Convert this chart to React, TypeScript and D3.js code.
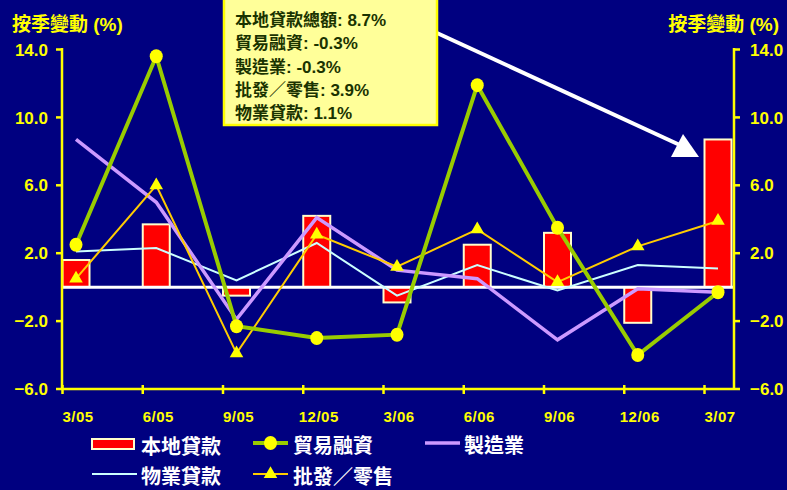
import React, { useEffect, useRef } from 'react';
import * as d3 from 'd3';

const quarters = ['3/05', '6/05', '9/05', '12/05', '3/06', '6/06', '9/06', '12/06', '3/07'];
const localLoans = [1.6, 3.7, -0.5, 4.2, -0.9, 2.5, 3.2, -2.1, 8.7];
const tradeFinance = [2.5, 13.6, -2.3, -3.0, -2.8, 11.9, 3.5, -4.0, -0.3];
const manufacturing = [8.7, 5.0, -1.9, 4.1, 1.0, 0.5, -3.1, -0.1, -0.3];
const propertyLoans = [2.1, 2.3, 0.4, 2.6, -0.5, 1.3, -0.2, 1.3, 1.1];
const wholesaleRetail = [0.5, 6.0, -3.9, 3.1, 1.2, 3.4, 0.3, 2.4, 3.9];
const yTicks = [-6, -2, 2, 6, 10, 14];
const summaryLines = ['本地貸款總額: 8.7%', '貿易融資: -0.3%', '製造業: -0.3%', '批發／零售: 3.9%', '物業貸款: 1.1%'];
const axisTitle = '按季變動 (%)';

const W = 787;
const H = 490;
const FONT = "'Liberation Sans', Arial, 'Noto Sans CJK TC', sans-serif";

const App: React.FC = () => {
  const svgRef = useRef<SVGSVGElement>(null);

  useEffect(() => {
    const svg = d3.select(svgRef.current);
    svg.selectAll('*').remove();

    const left = 62;
    const right = 734;
    const top = 48;
    const bottom = 389;

    svg.append('rect').attr('width', W).attr('height', H).attr('fill', '#000080');

    const x = d3.scalePoint<string>().domain(quarters).range([76, 718]);
    const y = d3.scaleLinear().domain([-6, 14]).range([bottom, top + 1.5]);
    const barW = 27;

    // bars
    svg.append('g')
      .selectAll('rect')
      .data(localLoans)
      .enter()
      .append('rect')
      .attr('x', (d, i) => (x(quarters[i]) as number) - barW / 2)
      .attr('y', d => y(Math.max(0, d)))
      .attr('width', barW)
      .attr('height', d => Math.abs(y(d) - y(0)))
      .attr('fill', '#ff0000')
      .attr('stroke', '#ffffcc')
      .attr('stroke-width', 2);

    // zero line
    svg.append('line')
      .attr('x1', left).attr('x2', right)
      .attr('y1', y(0)).attr('y2', y(0))
      .attr('stroke', '#ffffff').attr('stroke-width', 3);

    const line = d3.line<number>()
      .x((d, i) => x(quarters[i]) as number)
      .y(d => y(d));

    const series = [
      { values: propertyLoans, color: '#ccffff', width: 2 },
      { values: manufacturing, color: '#cc99ff', width: 3.5 },
      { values: wholesaleRetail, color: '#ffcc00', width: 2 },
      { values: tradeFinance, color: '#99cc00', width: 4 },
    ];
    series.forEach(s => {
      svg.append('path')
        .datum(s.values)
        .attr('d', line)
        .attr('fill', 'none')
        .attr('stroke', s.color)
        .attr('stroke-width', s.width)
        .attr('stroke-linejoin', 'miter');
    });

    const tri = d3.symbol().type(d3.symbolTriangle).size(80);
    svg.append('g')
      .selectAll('path')
      .data(wholesaleRetail)
      .enter()
      .append('path')
      .attr('d', tri)
      .attr('transform', (d, i) => `translate(${x(quarters[i])},${y(d)})`)
      .attr('fill', '#ffff00');

    svg.append('g')
      .selectAll('ellipse')
      .data(tradeFinance)
      .enter()
      .append('ellipse')
      .attr('cx', (d, i) => x(quarters[i]) as number)
      .attr('cy', d => y(d))
      .attr('rx', 6.5)
      .attr('ry', 7)
      .attr('fill', '#ffff00');

    // axes
    const axisColor = '#ffff00';
    const axes = svg.append('g').attr('stroke', axisColor).attr('stroke-width', 2.5);
    axes.append('line').attr('x1', left).attr('x2', left).attr('y1', top).attr('y2', bottom);
    axes.append('line').attr('x1', right).attr('x2', right).attr('y1', top).attr('y2', bottom);
    axes.append('line').attr('x1', left).attr('x2', right).attr('y1', bottom).attr('y2', bottom);

    yTicks.forEach(t => {
      axes.append('line').attr('x1', left - 6).attr('x2', left).attr('y1', y(t)).attr('y2', y(t));
      axes.append('line').attr('x1', right).attr('x2', right + 6).attr('y1', y(t)).attr('y2', y(t));
    });
    quarters.forEach(q => {
      const tx = (x(q) as number) - 13.5;
      axes.append('line').attr('x1', tx).attr('x2', tx).attr('y1', bottom - 4).attr('y2', bottom + 5);
    });

    const fmt = d3.format('.1f');
    const tickText = svg.append('g')
      .attr('fill', axisColor)
      .style('font-family', FONT)
      .style('font-weight', 'bold')
      .style('font-size', '17px');
    yTicks.forEach(t => {
      tickText.append('text')
        .attr('x', 48).attr('y', y(t)).attr('dy', '0.36em')
        .attr('text-anchor', 'end').text(fmt(t));
      tickText.append('text')
        .attr('x', 750).attr('y', y(t)).attr('dy', '0.36em')
        .text(fmt(t));
    });

    svg.append('g')
      .selectAll('text')
      .data(quarters)
      .enter()
      .append('text')
      .attr('x', d => (x(d) as number) + 2)
      .attr('y', 417)
      .attr('dy', '0.36em')
      .attr('text-anchor', 'middle')
      .attr('fill', axisColor)
      .style('font-family', FONT)
      .style('font-weight', 'bold')
      .style('font-size', '15px')
      .style('letter-spacing', '0.5px')
      .text(d => d);

    // axis titles
    svg.append('text')
      .attr('x', 12).attr('y', 24).attr('dy', '0.36em')
      .attr('fill', axisColor)
      .style('font-family', FONT).style('font-weight', 'bold').style('font-size', '19px')
      .text(axisTitle);
    svg.append('text')
      .attr('x', 779).attr('y', 24).attr('dy', '0.36em')
      .attr('text-anchor', 'end')
      .attr('fill', axisColor)
      .style('font-family', FONT).style('font-weight', 'bold').style('font-size', '19px')
      .text(axisTitle);

    // annotation arrow
    svg.append('line')
      .attr('x1', 437).attr('y1', 33).attr('x2', 682).attr('y2', 146)
      .attr('stroke', '#ffffff').attr('stroke-width', 4);
    svg.append('polygon')
      .attr('points', '671,157 683,134 699,157')
      .attr('fill', '#ffffff');

    // summary box
    svg.append('rect')
      .attr('x', 224).attr('y', -2).attr('width', 213).attr('height', 127)
      .attr('fill', '#ffff99').attr('stroke', '#ffff00').attr('stroke-width', 2.5);
    svg.append('g')
      .selectAll('text')
      .data(summaryLines)
      .enter()
      .append('text')
      .attr('x', 235)
      .attr('y', (d, i) => 20 + i * 23.3)
      .attr('dy', '0.36em')
      .attr('fill', '#1a3300')
      .style('font-family', FONT)
      .style('font-weight', 'bold')
      .style('font-size', '17px')
      .text(d => d);

    // legend
    const legend = svg.append('g')
      .style('font-family', FONT)
      .style('font-size', '20px')
      .style('font-weight', 'bold');
    const legendItems = [
      { label: '本地貸款', kind: 'bar', color: '#ff0000', x: 92, y: 444, width: 2, textX: 141 },
      { label: '貿易融資', kind: 'circle', color: '#99cc00', x: 253, y: 443, width: 4, textX: 293 },
      { label: '製造業', kind: 'line', color: '#cc99ff', x: 425, y: 443, width: 3.5, textX: 464 },
      { label: '物業貸款', kind: 'line', color: '#ccffff', x: 92, y: 474, width: 2, textX: 141 },
      { label: '批發／零售', kind: 'tri', color: '#ffcc00', x: 253, y: 474, width: 2, textX: 293 },
    ];
    legendItems.forEach(it => {
      const g = legend.append('g');
      if (it.kind === 'bar') {
        g.append('rect').attr('x', it.x).attr('y', it.y - 5).attr('width', 42).attr('height', 10)
          .attr('fill', it.color).attr('stroke', '#ffffcc').attr('stroke-width', 2);
      } else {
        const len = it.x === 92 ? 45 : 35;
        g.append('line').attr('x1', it.x).attr('x2', it.x + len).attr('y1', it.y).attr('y2', it.y)
          .attr('stroke', it.color).attr('stroke-width', it.width);
        if (it.kind === 'circle') {
          g.append('ellipse').attr('cx', it.x + 17.5).attr('cy', it.y).attr('rx', 6.5).attr('ry', 7).attr('fill', '#ffff00');
        }
        if (it.kind === 'tri') {
          g.append('path').attr('d', tri).attr('transform', `translate(${it.x + 17.5},${it.y})`).attr('fill', '#ffff00');
        }
      }
      g.append('text')
        .attr('x', it.textX)
        .attr('y', it.y + 3)
        .attr('dy', '0.36em')
        .attr('fill', '#ffffff')
        .text(it.label);
    });
  }, []);

  return (
    <svg
      ref={svgRef}
      width={W}
      height={H}
      style={{ position: 'fixed', left: 0, top: 0, display: 'block' }}
    />
  );
};

export default App;
